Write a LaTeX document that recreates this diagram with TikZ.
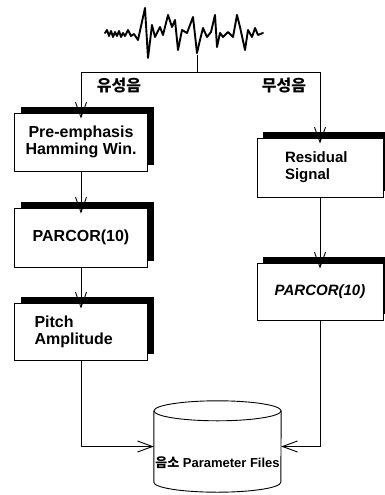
\documentclass[tikz,border=0pt]{standalone}
\usepackage{fontspec}
\setmainfont{Liberation Sans}
\newfontfamily\krfont{Noto Sans CJK KR}
\usetikzlibrary{arrows.meta,shadows}
\begin{document}
\begin{tikzpicture}[x=1pt,y=-1pt,
  boxstyle/.style={draw, line width=0.9pt, fill=white, inner sep=0pt,
    drop shadow={shadow xshift=6pt, shadow yshift=6pt, fill=black, opacity=1}},
  leftbox/.style={boxstyle, minimum width=133pt, font=\fontsize{16}{17}\selectfont\bfseries},
  rightbox/.style={boxstyle, minimum width=126pt, font=\fontsize{15}{17}\selectfont\bfseries},
  conn/.style={line width=0.9pt},
  arr/.style={conn, -{Straight Barb[length=15pt,width=11pt,line width=0.9pt]}},
  tagtext/.style={font=\krfont\bfseries\fontsize{16}{17}\selectfont, inner sep=0pt},
  wave/.style={line width=1.9pt, line join=round, line cap=round}
]
\useasboundingbox (0,0) rectangle (385,495);

% waveform
\draw[wave] (105,33) -- (107,30) -- (109,36) -- (111,31) -- (113,37) -- (115,32) -- (117,36)
  -- (119,31) -- (121,37) -- (123,33) -- (125,36) -- (128,30) -- (131,36) -- (134,34)
  -- (138,40) -- (145,8) -- (148,58) -- (152,25) -- (155,37) -- (160,27) -- (163,35)
  -- (168,15) -- (172,27) -- (175,20) -- (178,50) -- (182,30) -- (187,33) -- (193,17)
  -- (197,53) -- (200,40) -- (203,28) -- (207,37) -- (211,32) -- (215,15) -- (217,47)
  -- (220,33) -- (223,37) -- (228,32) -- (233,37) -- (237,15) -- (240,27) -- (245,50)
  -- (248,30) -- (252,37) -- (255,28) -- (258,35) -- (263,33);

\coordinate (wavebot) at (197,55);
\coordinate (split) at (197,72);

% boxes
\node[leftbox, minimum height=58pt, align=center] (b1) at (81,142)
  {Pre-emphasis\\Hamming Win.};
\node[leftbox, minimum height=59pt, align=center] (b2) at (81,237.5)
  {\raisebox{-5pt}{PARCOR(10)}};
\node[leftbox, minimum height=57pt, align=left, text width=93pt, inner xsep=20pt] (b3) at (81,331.5)
  {Pitch\\Amplitude};
\node[rightbox, minimum height=59pt, align=left, text width=70pt, inner xsep=28pt] (r1) at (320,167.5)
  {Residual\\Signal};
\node[rightbox, minimum height=57pt, align=center] (r2) at (320,291.5)
  {\raisebox{-2pt}{\itshape PARCOR(10)}};

% labels
\node[tagtext] (lv) at (119,86) {유성음};
\node[tagtext] (lu) at (284,86) {무성음};

% database cylinder
\node[minimum width=127pt, minimum height=71pt, inner sep=0pt] (db) at (217.5,446.5) {};
\draw[line width=0.9pt] (db.north west) -- (db.south west)
  arc[start angle=180, end angle=360, x radius=63.5pt, y radius=10pt] -- (db.north east);
\draw[line width=0.9pt] (db.north) ellipse[x radius=63.5pt, y radius=10pt];
\node[font=\fontsize{13}{14}\selectfont\bfseries, inner sep=0pt] (dbtext) at (217.5,463)
  {{\krfont 음소} Parameter Files};

% connectors
\draw[conn] (wavebot) -- (split);
\draw[arr, shorten >=-6pt] (split) -| (b1.north);
\draw[arr, shorten >=-6pt] (split) -| (r1.north);
\draw[arr, shorten >=-6pt] (b1.south) -- (b2.north);
\draw[arr, shorten >=-6pt] (b2.south) -- (b3.north);
\draw[arr, shorten >=-6pt] (r1.south) -- (r2.north);
\draw[arr] (b3.south) |- (db.west);
\draw[arr] (r2.south) |- (db.east);
\end{tikzpicture}
\end{document}
